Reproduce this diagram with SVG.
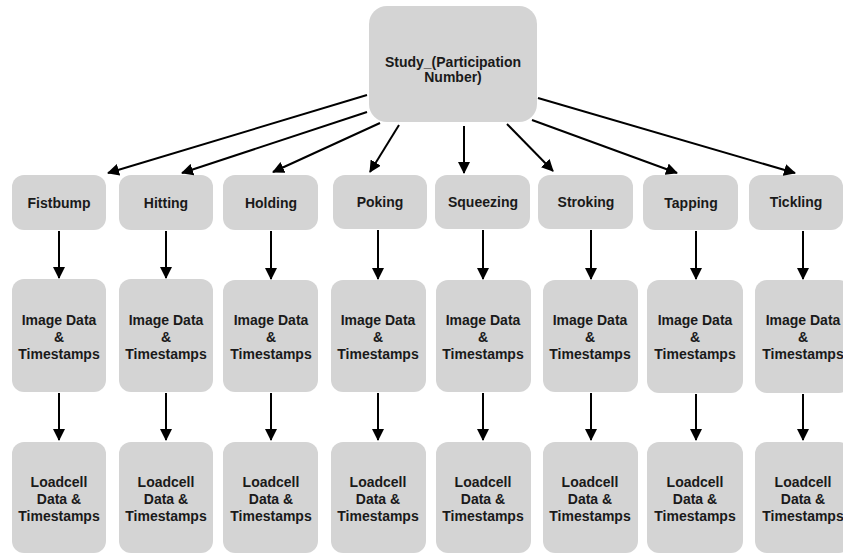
<svg xmlns="http://www.w3.org/2000/svg" width="843" height="554" viewBox="0 0 843 554">
<defs>
<marker id="ah" markerUnits="userSpaceOnUse" markerWidth="12" markerHeight="12" viewBox="0 0 12 12" refX="11" refY="6" orient="auto">
<path d="M0,0 L12,6 L0,12 z" fill="#000"/>
</marker>
</defs>
<style>
.box{fill:#d4d4d4;}
.t{font-family:"Liberation Sans",Arial,sans-serif;font-weight:bold;font-size:14px;fill:#1a1a1a;text-anchor:middle;}
.c line{stroke:#000;stroke-width:2;marker-end:url(#ah);}
</style>
<rect width="843" height="554" fill="#fff"/>
<g id="root">
<rect class="box" x="369" y="6" width="168" height="116" rx="18"/>
<text class="t" x="453" y="67">Study_(Participation</text>
<text class="t" x="453" y="82">Number)</text>
</g>
<g id="fistbump"><rect class="box" x="12" y="175" width="94" height="55" rx="12"/><text class="t" x="59" y="208">Fistbump</text></g>
<g id="hitting"><rect class="box" x="119" y="175" width="94" height="55" rx="12"/><text class="t" x="166" y="208">Hitting</text></g>
<g id="holding"><rect class="box" x="223" y="175" width="95" height="55" rx="12"/><text class="t" x="271" y="208">Holding</text></g>
<g id="poking"><rect class="box" x="333" y="175" width="94" height="54" rx="12"/><text class="t" x="380" y="207">Poking</text></g>
<g id="squeezing"><rect class="box" x="435" y="175" width="95" height="54" rx="12"/><text class="t" x="483" y="207">Squeezing</text></g>
<g id="stroking"><rect class="box" x="538" y="175" width="95" height="54" rx="12"/><text class="t" x="586" y="207">Stroking</text></g>
<g id="tapping"><rect class="box" x="643" y="175" width="95" height="55" rx="12"/><text class="t" x="691" y="208">Tapping</text></g>
<g id="tickling"><rect class="box" x="749" y="175" width="94" height="55" rx="12"/><text class="t" x="796" y="207">Tickling</text></g>

<g id="img1"><rect class="box" x="12" y="279" width="94" height="113" rx="12"/><text class="t" x="59" y="325">Image Data</text><text class="t" x="59" y="342">&amp;</text><text class="t" x="59" y="359">Timestamps</text></g>
<g id="img2"><rect class="box" x="119" y="279" width="94" height="113" rx="12"/><text class="t" x="166" y="325">Image Data</text><text class="t" x="166" y="342">&amp;</text><text class="t" x="166" y="359">Timestamps</text></g>
<g id="img3"><rect class="box" x="223" y="280" width="95" height="112" rx="12"/><text class="t" x="271" y="325">Image Data</text><text class="t" x="271" y="342">&amp;</text><text class="t" x="271" y="359">Timestamps</text></g>
<g id="img4"><rect class="box" x="331" y="280" width="95" height="112" rx="12"/><text class="t" x="378" y="325">Image Data</text><text class="t" x="378" y="342">&amp;</text><text class="t" x="378" y="359">Timestamps</text></g>
<g id="img5"><rect class="box" x="436" y="280" width="95" height="112" rx="12"/><text class="t" x="483" y="325">Image Data</text><text class="t" x="483" y="342">&amp;</text><text class="t" x="483" y="359">Timestamps</text></g>
<g id="img6"><rect class="box" x="543" y="280" width="95" height="112" rx="12"/><text class="t" x="590" y="325">Image Data</text><text class="t" x="590" y="342">&amp;</text><text class="t" x="590" y="359">Timestamps</text></g>
<g id="img7"><rect class="box" x="647" y="280" width="96" height="113" rx="12"/><text class="t" x="695" y="325">Image Data</text><text class="t" x="695" y="342">&amp;</text><text class="t" x="695" y="359">Timestamps</text></g>
<g id="img8"><rect class="box" x="755" y="280" width="96" height="113" rx="12"/><text class="t" x="803" y="325">Image Data</text><text class="t" x="803" y="342">&amp;</text><text class="t" x="803" y="359">Timestamps</text></g>

<g id="load1"><rect class="box" x="12" y="442" width="94" height="111" rx="12"/><text class="t" x="59" y="487">Loadcell</text><text class="t" x="59" y="504">Data &amp;</text><text class="t" x="59" y="521">Timestamps</text></g>
<g id="load2"><rect class="box" x="119" y="442" width="94" height="111" rx="12"/><text class="t" x="166" y="487">Loadcell</text><text class="t" x="166" y="504">Data &amp;</text><text class="t" x="166" y="521">Timestamps</text></g>
<g id="load3"><rect class="box" x="223" y="442" width="95" height="111" rx="12"/><text class="t" x="271" y="487">Loadcell</text><text class="t" x="271" y="504">Data &amp;</text><text class="t" x="271" y="521">Timestamps</text></g>
<g id="load4"><rect class="box" x="331" y="442" width="95" height="111" rx="12"/><text class="t" x="378" y="487">Loadcell</text><text class="t" x="378" y="504">Data &amp;</text><text class="t" x="378" y="521">Timestamps</text></g>
<g id="load5"><rect class="box" x="436" y="442" width="95" height="111" rx="12"/><text class="t" x="483" y="487">Loadcell</text><text class="t" x="483" y="504">Data &amp;</text><text class="t" x="483" y="521">Timestamps</text></g>
<g id="load6"><rect class="box" x="543" y="442" width="95" height="111" rx="12"/><text class="t" x="590" y="487">Loadcell</text><text class="t" x="590" y="504">Data &amp;</text><text class="t" x="590" y="521">Timestamps</text></g>
<g id="load7"><rect class="box" x="647" y="442" width="96" height="111" rx="12"/><text class="t" x="695" y="487">Loadcell</text><text class="t" x="695" y="504">Data &amp;</text><text class="t" x="695" y="521">Timestamps</text></g>
<g id="load8"><rect class="box" x="755" y="442" width="96" height="111" rx="12"/><text class="t" x="803" y="487">Loadcell</text><text class="t" x="803" y="504">Data &amp;</text><text class="t" x="803" y="521">Timestamps</text></g>

<g class="c" id="connectors">
<line x1="367" y1="95" x2="108" y2="173"/>
<line x1="367" y1="112" x2="182" y2="173"/>
<line x1="380" y1="123" x2="273" y2="172"/>
<line x1="399" y1="125" x2="370" y2="172"/>
<line x1="464" y1="126" x2="464" y2="173"/>
<line x1="507" y1="124" x2="553" y2="171"/>
<line x1="532" y1="120" x2="677" y2="173"/>
<line x1="538" y1="98" x2="795" y2="173"/>

<line x1="59" y1="231" x2="59" y2="278"/>
<line x1="166" y1="231" x2="166" y2="278"/>
<line x1="271" y1="231" x2="271" y2="279"/>
<line x1="378" y1="230" x2="378" y2="279"/>
<line x1="483" y1="230" x2="483" y2="279"/>
<line x1="591" y1="230" x2="591" y2="279"/>
<line x1="696" y1="231" x2="696" y2="279"/>
<line x1="803" y1="231" x2="803" y2="279"/>

<line x1="59" y1="393" x2="59" y2="440"/>
<line x1="166" y1="393" x2="166" y2="440"/>
<line x1="271" y1="393" x2="271" y2="440"/>
<line x1="378" y1="393" x2="378" y2="440"/>
<line x1="483" y1="393" x2="483" y2="440"/>
<line x1="591" y1="393" x2="591" y2="440"/>
<line x1="696" y1="394" x2="696" y2="440"/>
<line x1="803" y1="394" x2="803" y2="440"/>
</g>
</svg>
